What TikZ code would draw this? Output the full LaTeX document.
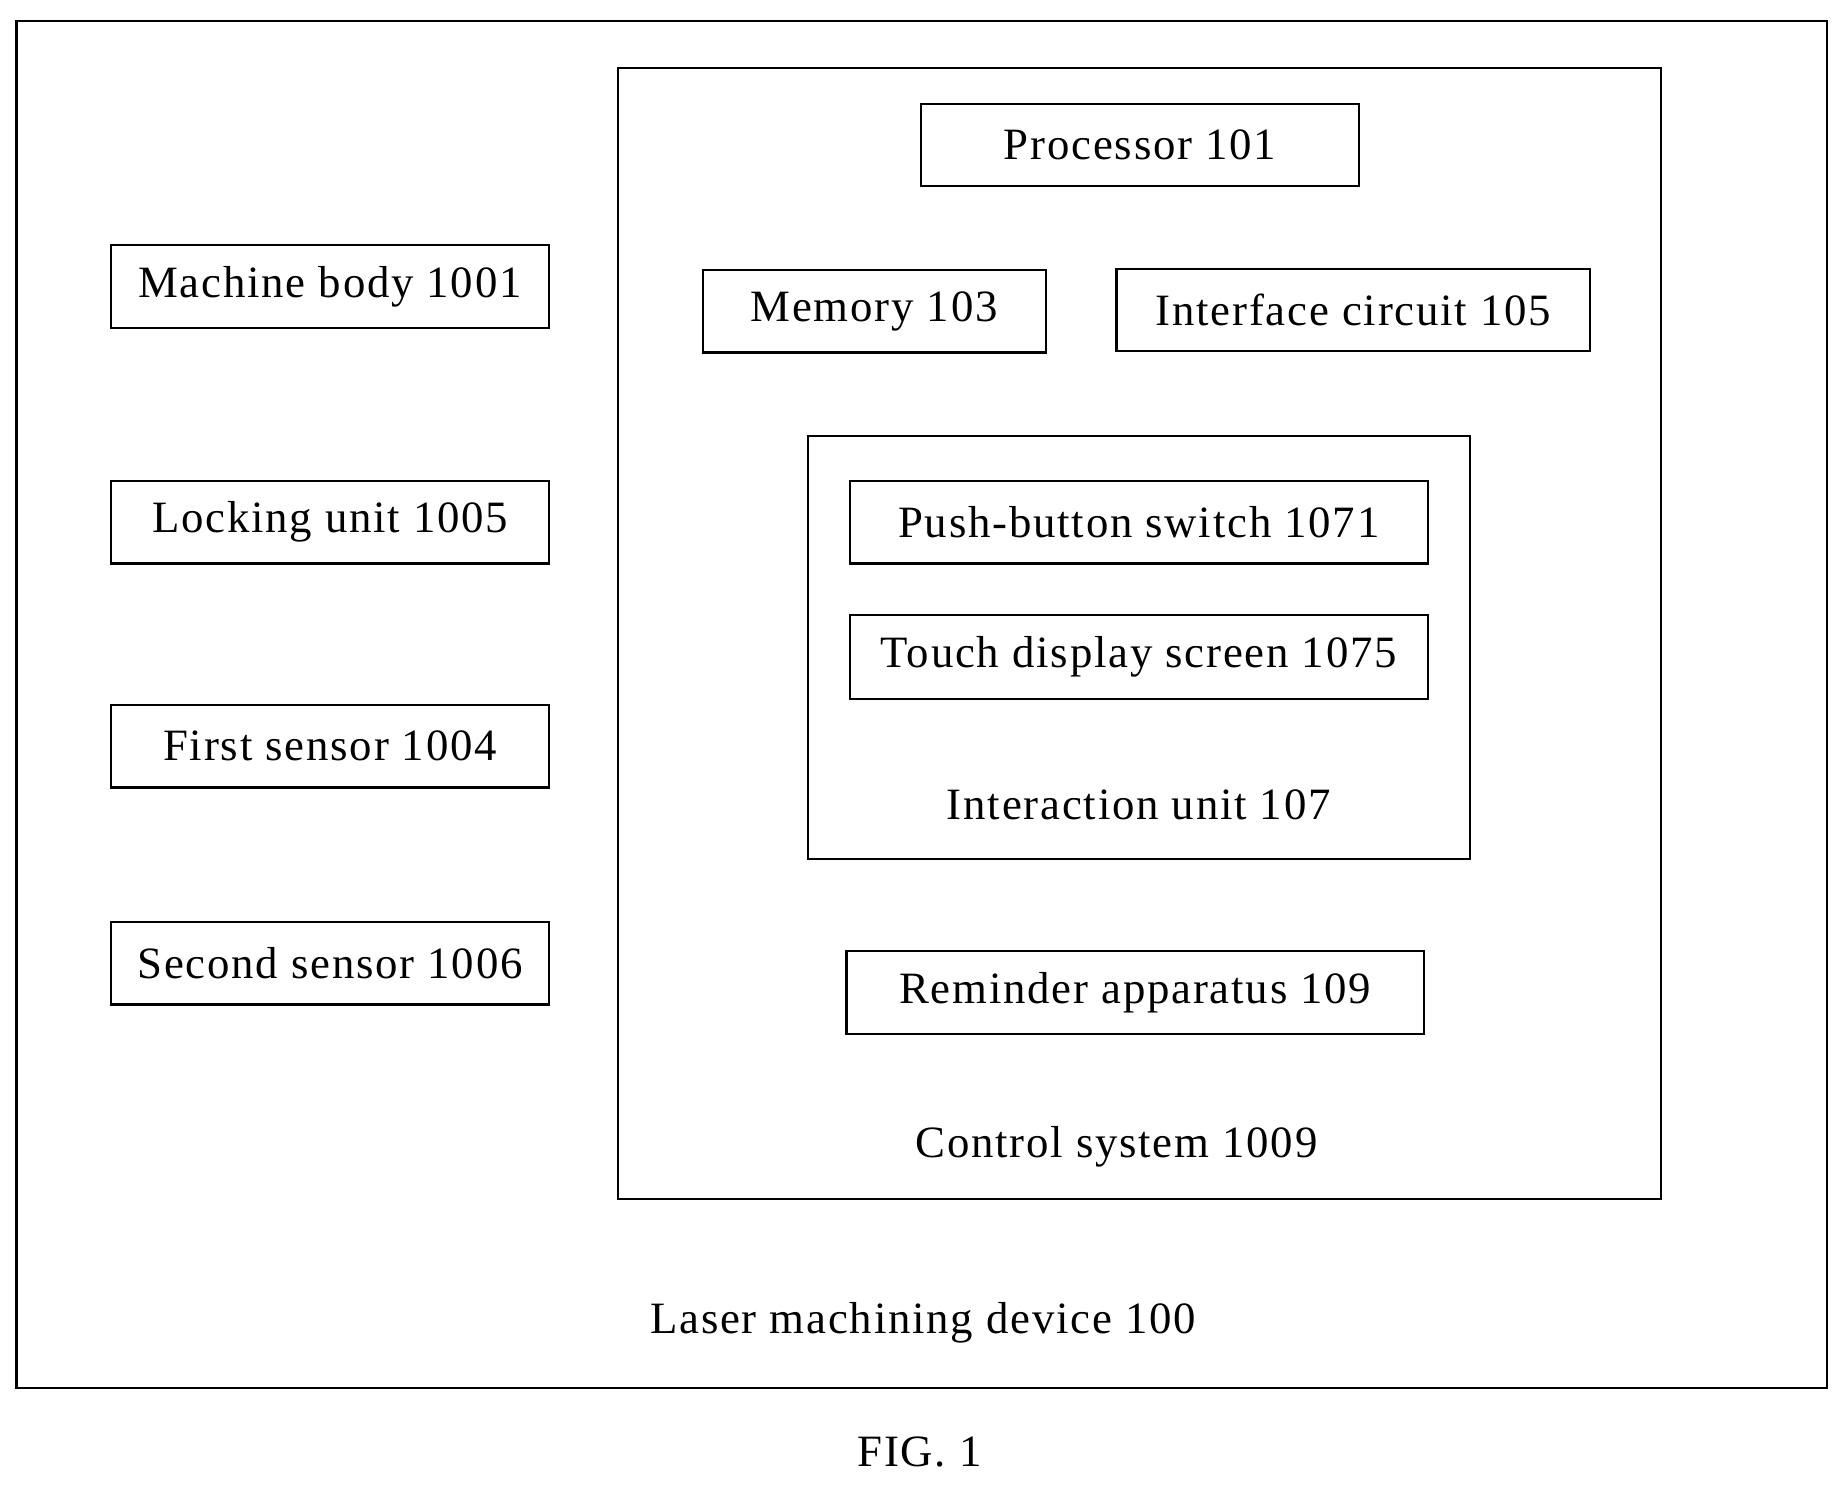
\documentclass[tikz,border=0pt]{standalone}
\usepackage{fontspec}
\setmainfont{Liberation Serif}[LetterSpace=4]
\begin{document}
\begin{tikzpicture}[x=1pt,y=-1pt,
  box/.style={draw,line width=1.8pt},
  lbl/.style={font=\fontsize{38}{42}\selectfont}]
\useasboundingbox (0,0) rectangle (1565,1260);
\draw[box] (14,18) rectangle (1550,1177);
\draw[box] (524,58) rectangle (1409,1017);
\draw[box] (685,370) rectangle (1247,729);
\newcommand{\bx}[6]{\draw[box] (#2,#3) rectangle (#4,#5); \node[lbl] (#1) at ({(#2+#4)/2},{(#3+#5)/2}) {#6};}
\bx{proc}{781}{88}{1153}{158}{Processor 101}
\bx{mem}{596}{229}{887}{299}{Memory 103}
\bx{intf}{947}{228}{1349}{298}{Interface circuit 105}
\bx{push}{721}{408}{1211}{478}{Push-button switch 1071}
\bx{touch}{721}{522}{1211}{593}{Touch display screen 1075}
\bx{rem}{718}{807}{1208}{877}{Reminder apparatus 109}
\bx{mb}{94}{208}{466}{278}{Machine body 1001}
\bx{lu}{94}{408}{466}{478}{Locking unit 1005}
\bx{fs}{94}{598}{466}{668}{First sensor 1004}
\bx{ss}{94}{782}{466}{852}{Second sensor 1006}
\node[lbl] (iu) at (966,683) {Interaction unit 107};
\node[lbl] (cs) at (947,973) {Control system 1009};
\node[lbl] (lm) at (783,1122) {Laser machining device 100};
\node[lbl] (fig) at (780,1232) {FIG. 1};
\end{tikzpicture}
\end{document}
